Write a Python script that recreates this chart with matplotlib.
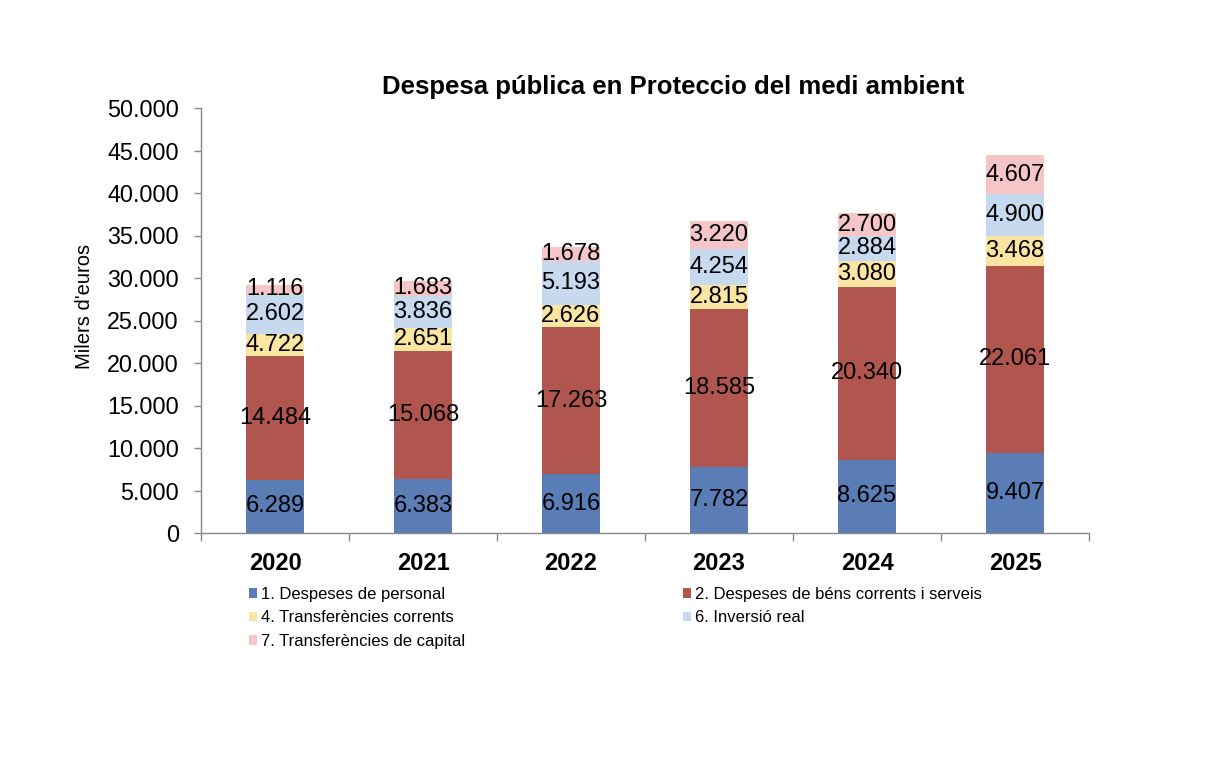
import matplotlib
matplotlib.use("Agg")
import matplotlib.pyplot as plt
from matplotlib.ticker import FuncFormatter, FixedLocator
from matplotlib.patches import Patch
import numpy as np

# ---- data ----
years = ["2020", "2021", "2022", "2023", "2024", "2025"]
series_names = ["1. Despeses de personal",
                "2. Despeses de béns corrents i serveis",
                "4. Transferències corrents",
                "6. Inversió real",
                "7. Transferències de capital"]
# bar heights as drawn
personal = [6289, 6383, 6916, 7782, 8625, 9407]
bens = [14484, 15068, 17263, 18585, 20340, 22061]
transf_corr = [2602, 2651, 2626, 2815, 3080, 3468]
inversio = [4722, 3836, 5193, 4254, 2884, 4900]
transf_cap = [1116, 1683, 1678, 3220, 2700, 4607]
# printed data labels (2020 labels of series 4 and 6 appear swapped in the source)
transf_corr_labels = [4722, 2651, 2626, 2815, 3080, 3468]
inversio_labels = [2602, 3836, 5193, 4254, 2884, 4900]

colors = ["#5B7DB6", "#B0564E", "#FAE5A2", "#C6D9EE", "#F5C5C7"]

plt.rcParams['font.family'] = ['Liberation Sans', 'DejaVu Sans']

def fmt_thousands(v):
    s = f"{int(round(v)):,}".replace(",", ".")
    return s

fig = plt.figure(figsize=(12.16, 7.64), dpi=100)
ax = fig.add_axes([201/1216, 1 - 533/764, 888/1216, 425/764])

x = np.arange(len(years))
heights = [personal, bens, transf_corr, inversio, transf_cap]
label_vals = [personal, bens, transf_corr_labels, inversio_labels, transf_cap]
bottom = np.zeros(len(years))
for h, lv, c in zip(heights, label_vals, colors):
    h = np.array(h, dtype=float)
    bc = ax.bar(x, h, width=0.39, bottom=bottom, color=c, linewidth=0)
    ax.bar_label(bc, labels=[fmt_thousands(v) for v in lv], label_type='center',
                 fontsize=17, color='black')
    bottom += h

ax.set_xlim(-0.5, len(years) - 0.5)
ax.set_ylim(0, 50000)
ax.yaxis.set_major_locator(FixedLocator(np.arange(0, 50001, 5000)))
ax.yaxis.set_major_formatter(FuncFormatter(lambda v, p: fmt_thousands(v)))
ax.tick_params(axis='y', labelsize=16.8, length=5, width=1, color='#898989', pad=11)

ax.set_xticks(x)
ax.set_xticklabels(years, fontsize=17, fontweight='bold')
ax.tick_params(axis='x', which='major', length=0, pad=14)
ax.set_xticks(np.arange(-0.5, len(years) + 0.5, 1.0), minor=True)
ax.tick_params(axis='x', which='minor', length=6, width=1, color='#898989')

for s in ['top', 'right']:
    ax.spines[s].set_visible(False)
for s in ['left', 'bottom']:
    ax.spines[s].set_color('#898989')
    ax.spines[s].set_linewidth(1)

fig.text(673/1216, 1 - 87/764, "Despesa pública en Proteccio del medi ambient",
         ha='center', va='center', fontsize=18.5, fontweight='bold')
fig.text(84/1216, 1 - 306/764, "Milers d'euros", rotation=90, ha='center', va='center',
         fontsize=14.5)

order = [0, 2, 4, 1, 3]
handles = [Patch(facecolor=colors[i], edgecolor='none') for i in order]
labels = [series_names[i] for i in order]
fig.legend(handles, labels, ncol=2, loc='upper left',
           bbox_to_anchor=(249/1216, 1 - 587/764), frameon=False, fontsize=12,
           handlelength=0.5, handleheight=0.5, handletextpad=0.2,
           labelspacing=0.5, columnspacing=13.1, borderpad=0, borderaxespad=0)

fig.savefig("out.png", dpi=100)
